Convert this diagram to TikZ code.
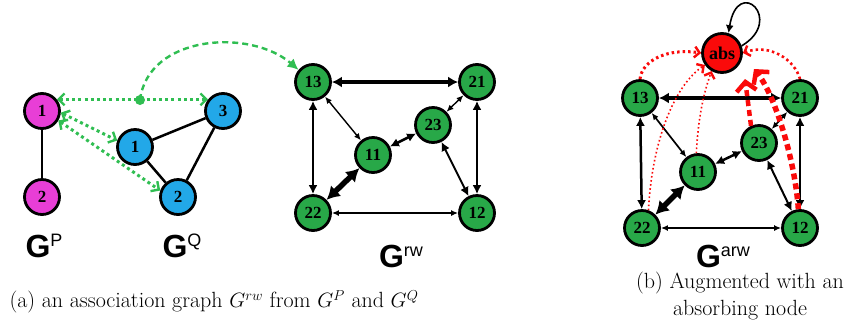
\documentclass[tikz,border=0pt]{standalone}
\usepackage{fontspec}
\usetikzlibrary{arrows.meta}
\newfontfamily\numfont{Liberation Serif}
\newfontfamily\glabfont{Liberation Sans}
\definecolor{nodegreen}{RGB}{40,168,72}
\definecolor{linkgreen}{RGB}{48,190,82}
\definecolor{pmag}{RGB}{232,62,214}
\definecolor{qcyan}{RGB}{34,168,232}
\definecolor{absred}{RGB}{250,10,10}
\newcommand{\glab}[2]{{\glabfont\fontsize{32}{34}\selectfont\bfseries G}\raisebox{11pt}{\glabfont\fontsize{18}{20}\selectfont #2}}
\tikzset{
  vtx/.style={circle, draw=black, line width=2.8pt, minimum size=35pt, inner sep=0pt,
              font=\numfont\bfseries\fontsize{17}{17}\selectfont},
  pnode/.style={vtx, fill=pmag},
  qnode/.style={vtx, fill=qcyan},
  gnode/.style={vtx, fill=nodegreen},
  absnode/.style={vtx, fill=absred, minimum size=39pt, font=\numfont\bfseries\fontsize{18}{18}\selectfont},
  plain/.style={line width=2.5pt},
  ethin/.style={line width=1.4pt, {Latex[length=7pt,width=6pt]}-{Latex[length=7pt,width=6pt]}},
  emid/.style={line width=2.5pt, {Latex[length=9pt,width=9pt]}-{Latex[length=9pt,width=9pt]}},
  ethick/.style={line width=3.6pt, {Latex[length=10pt,width=11pt]}-{Latex[length=10pt,width=11pt]}},
  ehuge/.style={line width=5.5pt, {Latex[length=13pt,width=15pt]}-{Latex[length=13pt,width=15pt]}},
  assoc/.style={linkgreen, line width=3pt, dash pattern=on 3pt off 3.2pt,
                {Straight Barb[length=6pt,width=12pt,line width=2.4pt]}-{Straight Barb[length=6pt,width=12pt,line width=2.4pt]}},
  todot/.style={absred, dash pattern=on 2.5pt off 3pt,
                -{Straight Barb[length=5pt,width=11pt,line width=2.4pt]}},
  todash/.style={absred, dash pattern=on 6pt off 4pt,
                -{Straight Barb[length=9pt,width=20pt,line width=4.5pt]}},
  glabel/.style={inner sep=0pt},
  caption/.style={font=\fontsize{22}{27}\selectfont, align=center, inner sep=0pt}
}
\begin{document}
\begin{tikzpicture}[x=1pt,y=-1pt]
\useasboundingbox (0,0) rectangle (851,325);

% ---- G^P and G^Q ----
\node[pnode] (p1) at (42,111) {1};
\node[pnode] (p2) at (42,197) {2};
\node[qnode] (q1) at (135,147) {1};
\node[qnode] (q2) at (178,197) {2};
\node[qnode] (q3) at (223,111) {3};
\draw[plain] (p1) -- (p2);
\draw[plain] (q1) -- (q3);
\draw[plain] (q1) -- (q2);
\draw[plain] (q2) -- (q3);

\coordinate (dot) at (140,100);
\draw[assoc] (p1.38) -- (q3.142);
\draw[assoc] (p1.-5) -- (q1.160);
\draw[assoc] (p1.-30) -- (q2.160);
\fill[linkgreen] (dot) circle (5pt);

\node[glabel] (lgp) at (44,246) {\glab{G}{P}};
\node[glabel] (lgq) at (182,246) {\glab{G}{Q}};

% ---- association graph G^rw ----
\node[gnode] (a13) at (313,82) {13};
\node[gnode] (a21) at (477,82) {21};
\node[gnode] (a23) at (433,125) {23};
\node[gnode] (a11) at (373,155) {11};
\node[gnode] (a22) at (313,213) {22};
\node[gnode] (a12) at (477,213) {12};

\draw[linkgreen, line width=2.4pt, dash pattern=on 6pt off 4pt, -{Latex[length=11pt,width=11pt]}]
  (dot) .. controls (148,35) and (250,28) .. (a13.140);

\draw[ethick] (a13) -- (a21);
\draw[emid] (a13) -- (a22);
\draw[emid] (a21) -- (a12);
\draw[ethin] (a13) -- (a11);
\draw[ethin] (a21) -- (a23);
\draw[emid] (a23) -- (a11);
\draw[ehuge] (a11) -- (a22);
\draw[emid, line width=2pt] (a23) -- (a12);
\draw[ethin] (a22) -- (a12);

\node[glabel] (lgrw) at (401,256) {\glab{G}{rw}};

% ---- augmented graph G^arw ----
\node[gnode] (b13) at (640,98) {13};
\node[gnode] (b21) at (800,98) {21};
\node[gnode] (b23) at (759,143) {23};
\node[gnode] (b11) at (698,172) {11};
\node[gnode] (b22) at (642,228) {22};
\node[gnode] (b12) at (800,228) {12};
\node[absnode] (abs) at (722,53) {abs};

\draw[ethick] (b13) -- (b21);
\draw[emid] (b13) -- (b22);
\draw[emid] (b21) -- (b12);
\draw[ethin, line width=1.7pt] (b13) -- (b11);
\draw[ethin, line width=1.7pt] (b21) -- (b23);
\draw[emid] (b23) -- (b11);
\draw[ehuge] (b11) -- (b22);
\draw[emid, line width=2pt] (b23) -- (b12);
\draw[ethin] (b22) -- (b12);

% transitions into the absorbing node
\coordinate (in23) at (745,79);
\coordinate (in12) at (754,69);
\draw[todot, line width=3pt] (b13.90) .. controls (642,60) and (668,48) .. (abs.180);
\draw[todot, line width=1.6pt, dash pattern=on 1.6pt off 2.5pt] (b22.70) .. controls (652,140) and (675,85) .. (abs.215);
\draw[todot, line width=1.6pt, dash pattern=on 1.6pt off 2.5pt] (b11.95) .. controls (698,120) and (703,95) .. (abs.240);
\draw[todash, line width=4.5pt] (b23.115) -- (in23);
\draw[todash, line width=5.5pt] (b12.95) .. controls (795,160) and (775,95) .. (in12);
\draw[todot, line width=2.6pt] (b21.90) .. controls (795,60) and (770,43) .. (abs.0);

% self loop of the absorbing node
\draw[line width=1.6pt, -{Latex[length=8pt,width=8pt]}]
  (abs.20) .. controls (785,20) and (738,-25) .. (abs.72);

\node[glabel] (lgarw) at (723,256) {\glab{G}{arw}};

% ---- captions ----
\node[caption] (capa) at (214,302) {(a) an association graph $G^{rw}$ from $G^P$ and $G^Q$};
\node[caption] (capb) at (740,296) {(b) Augmented with an\\absorbing node};
\end{tikzpicture}
\end{document}
